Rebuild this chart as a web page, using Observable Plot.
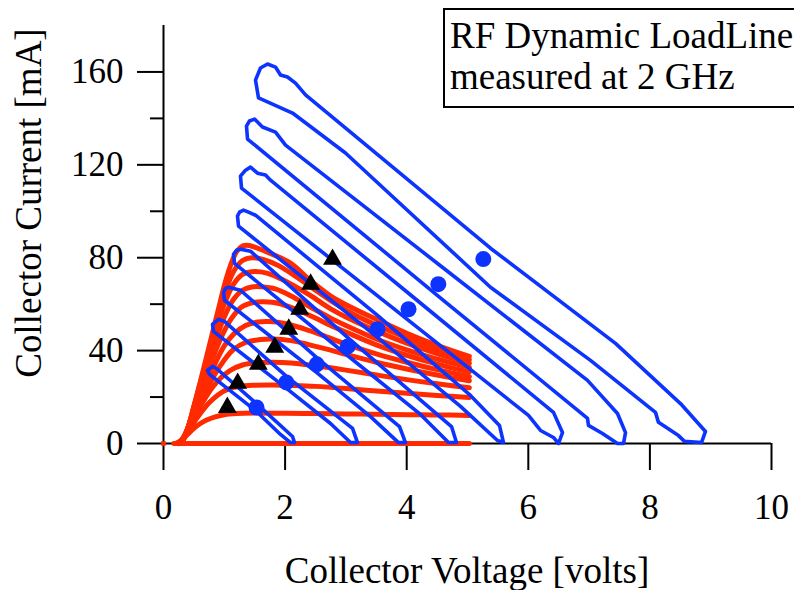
<!DOCTYPE html>
<html>
<head>
<meta charset="utf-8">
<script src="https://cdn.jsdelivr.net/npm/d3@7"></script>
<script src="https://cdn.jsdelivr.net/npm/@observablehq/plot@0.6"></script>
<style>
  html, body { margin: 0; padding: 0; background: white; }
</style>
</head>
<body>
<div id="chart"></div>
<script>
// ---- axis ticks ----
const xTicks = [0, 2, 4, 6, 8, 10];
const yTicks = [0, 40, 80, 120, 160];
const yMinorTicks = [20, 60, 100, 140];

// ---- text ----
const xTitle = "Collector Voltage [volts]";
const yTitle = "Collector Current [mA]";
const legendLines = ["RF Dynamic LoadLine", "measured at 2 GHz"];

// ---- DC I-V curves (red) [volts, mA] ----
const ivZero = [[0.17, 0], [5.03, 0]];
const iv1 = [[0.2,0],[0.3,1.5],[0.4,4],[0.5,6.5],[0.6,8.5],[0.7,10],[0.85,11.5],[1.0,12.4],[1.2,12.9],[1.5,13.1],[2,13],[2.5,12.9],[3,12.7],[3.5,12.6],[4,12.4],[4.5,12.3],[5.03,12.1]];
const iv2 = [[0.25,0],[0.35,3],[0.45,7],[0.55,11],[0.65,14.5],[0.75,17.5],[0.9,21],[1.05,23.3],[1.25,24.6],[1.5,25.1],[1.8,25.2],[2.1,25],[2.5,24.6],[3,23.7],[3.5,22.6],[4,21.6],[4.5,20.7],[5.03,19.8]];
const iv3 = [[0.25,0],[0.35,3.5],[0.45,8.5],[0.55,13.5],[0.65,18],[0.8,24],[0.95,28.5],[1.1,31.5],[1.3,33.8],[1.55,34.8],[1.8,35],[2.1,34.7],[2.4,33.8],[2.75,32.6],[3,31.6],[3.5,29.5],[4,27.5],[4.5,25.7],[5.03,24]];
const iv4 = [[0.28,0],[0.4,6],[0.5,11],[0.6,17],[0.7,22.5],[0.85,30],[1,36],[1.15,40.5],[1.35,43.5],[1.6,44.8],[1.8,45],[2.1,44.3],[2.4,42.5],[2.75,40.2],[3,38.4],[3.5,35],[4,32.1],[4.5,29.5],[5.03,27]];
const iv5 = [[0.28,0],[0.4,6.5],[0.5,12.5],[0.6,19],[0.7,25.5],[0.85,34.5],[1,42],[1.15,47],[1.35,50.8],[1.55,52.3],[1.75,52.5],[2,51.7],[2.3,49.5],[2.6,46.8],[3,42.8],[3.5,38.6],[4,35],[4.5,31.8],[5.03,28.8]];
const iv6 = [[0.3,0],[0.4,6.5],[0.5,14],[0.6,21.5],[0.7,29],[0.85,39.5],[1,48.5],[1.15,55],[1.3,59],[1.5,60.8],[1.65,61],[1.9,60.3],[2.2,57.5],[2.5,54],[2.75,50.8],[3,48],[3.5,42.5],[4,38],[4.5,34.2],[5.03,30.8]];
const iv7 = [[0.3,0],[0.4,6.5],[0.5,15],[0.6,23.5],[0.7,32],[0.85,44],[1,54.5],[1.15,62],[1.3,66],[1.45,67.4],[1.6,67.5],[1.85,66.5],[2.1,63.5],[2.4,59],[2.75,54],[3,50.8],[3.5,45],[4,40.3],[4.5,36.3],[5.03,32.8]];
const iv8 = [[0.3,0],[0.4,6.5],[0.5,15.5],[0.6,25],[0.7,34.5],[0.85,48],[1,60],[1.15,68.5],[1.3,72.8],[1.45,74],[1.7,73.4],[2,70],[2.4,64],[2.75,58],[3,54.5],[3.5,48.5],[4,43.2],[4.5,38.7],[5.03,34.5]];
const iv9 = [[0.3,0],[0.4,6.5],[0.5,16],[0.6,25.5],[0.7,35.5],[0.85,50.5],[1,64],[1.15,74],[1.3,78.8],[1.45,80],[1.65,79.2],[1.9,76.5],[2.2,71.5],[2.5,66],[2.75,61.5],[3.1,56],[3.5,51],[4,45.5],[4.5,40.5],[5.03,36]];
const iv10 = [[0.3,0],[0.4,6.5],[0.5,16],[0.6,26],[0.7,36.5],[0.8,47],[0.9,57.5],[1,68],[1.1,76.5],[1.2,82.5],[1.3,85],[1.4,85.3],[1.7,82.5],[2.1,77.5],[2.4,70.5],[2.75,63.5],[3.1,58.5],[3.5,53.5],[4,47.5],[4.5,42.3],[5.03,37.5]];
const originPoint = [[0, 0]];

// ---- RF dynamic load-line loops (blue) [volts, mA] ----
const loop1 = [[0.806,33.2],[0.872,32.3],[1.530,17.2],[2.122,3.0],[2.155,0.4],[2.089,0.4],[1.924,3.9],[1.530,13.8],[0.757,29.8],[0.724,31.5]];
const loop2 = [[0.905,53.5],[1.003,52.6],[2.023,28.9],[3.109,6.5],[3.191,0.4],[3.076,0.4],[2.747,8.6],[2.023,23.7],[0.822,48.3],[0.806,51.3]];
const loop3 = [[1.069,67.3],[1.266,66.0],[2.516,37.1],[3.882,7.3],[3.980,0.4],[3.865,0.4],[3.405,11.6],[2.516,30.6],[1.003,61.7],[0.987,65.1],[1.020,66.8]];
const loop4 = [[1.266,83.7],[1.431,82.8],[3.026,45.7],[4.737,7.3],[4.819,0.4],[4.688,0.4],[4.227,12.5],[3.026,37.9],[1.168,77.6],[1.151,81.5],[1.201,83.2]];
const loop5 = [[1.316,100.5],[1.398,99.6],[1.513,98.3],[3.520,55.2],[5.049,20.7],[5.526,7.8],[5.592,0.4],[5.493,1.3],[4.885,16.0],[3.520,45.7],[1.234,93.6],[1.217,97.9],[1.250,99.6]];
const loop6 = [[1.431,119.0],[1.546,116.4],[1.678,115.6],[1.760,113.4],[4.030,64.7],[6.414,13.4],[6.562,4.7],[6.497,0],[6.414,2.6],[6.201,5.6],[6.003,12.1],[4.030,53.0],[1.283,110.0],[1.266,115.1],[1.349,117.7]];
const loop7 = [[1.497,139.7],[1.628,136.3],[1.842,134.1],[2.007,128.5],[4.523,77.2],[6.974,27.2],[7.467,12.9],[7.599,4.7],[7.566,0],[7.467,0],[7.220,4.3],[6.990,7.8],[6.974,10.8],[4.523,63.4],[1.382,131.1],[1.365,136.7],[1.414,138.9]];
const loop8 = [[1.711,163.4],[1.842,162.1],[1.924,158.7],[2.039,157.8],[2.171,155.2],[2.336,150.1],[5.378,84.1],[7.434,43.1],[8.503,17.2],[8.914,5.2],[8.849,0.4],[8.569,0.9],[8.470,3.4],[8.141,9.1],[8.092,13.4],[7.023,35.8],[5.378,67.3],[2.993,125.1],[2.122,142.3],[1.563,148.8],[1.513,156.5],[1.595,161.7]];

// ---- bias points (blue dots) and knee points (black triangles) ----
const biasV = [1.53, 2.02, 2.52, 3.03, 3.52, 4.03, 4.52, 5.26];
const biasI = [15.5, 26.3, 34.1, 41.8, 49.2, 57.8, 68.6, 79.4];
const kneeV = [1.05, 1.22, 1.56, 1.83, 2.06, 2.24, 2.42, 2.78];
const kneeI = [15.5, 25.9, 34.1, 41.4, 49.2, 57.8, 68.6, 79.3];

// ---- build tables ----
const ivCurves = [ivZero, iv1, iv2, iv3, iv4, iv5, iv6, iv7, iv8, iv9, iv10];
const ivData = ivCurves.flatMap((c, k) => c.map(([v, i]) => ({curve: k, v, i})));
const loops = [loop1, loop2, loop3, loop4, loop5, loop6, loop7, loop8];
const loopData = loops.flatMap((c, k) => c.map(([v, i]) => ({loop: k, v, i})));
const biasData = biasV.map((v, k) => ({v, i: biasI[k]}));
const kneeData = kneeV.map((v, k) => ({v, i: kneeI[k]}));
const originData = originPoint.map(([v, i]) => ({v, i}));

const RED = "#ff2a00";
const BLUE = "#0d33ff";
const FONT = "'Liberation Serif', 'Times New Roman', serif";

const svg = Plot.plot({
  width: 794,
  height: 590,
  marginTop: 25,
  marginBottom: 147,
  marginLeft: 163,
  marginRight: 23,
  style: {fontFamily: FONT, fontSize: "35px", color: "black", background: "white"},
  x: {domain: [0, 10]},
  y: {domain: [0, 180]},
  marks: [
    Plot.axisX({ticks: xTicks, tickSize: 27, tickPadding: 24, fontSize: 35, strokeWidth: 2, label: null, tickFormat: d => String(d)}),
    Plot.axisY({ticks: yTicks, tickSize: 26, tickPadding: 14, fontSize: 35, strokeWidth: 2, label: null, tickFormat: d => String(d)}),
    Plot.axisY({ticks: yMinorTicks, tickSize: 13, strokeWidth: 2, label: null, tickFormat: () => ""}),
    Plot.ruleX([0], {strokeWidth: 2}),
    Plot.ruleY([0], {strokeWidth: 2}),
    Plot.line(ivData, {x: "v", y: "i", z: "curve", stroke: RED, strokeWidth: 5, curve: "catmull-rom"}),
    Plot.dot(originData, {x: "v", y: "i", symbol: "square", r: 2.6, fill: RED}),
    Plot.line(loopData, {x: "v", y: "i", z: "loop", stroke: BLUE, strokeWidth: 3.6, curve: "linear-closed", strokeLinejoin: "round"}),
    Plot.dot(biasData, {x: "v", y: "i", r: 8, fill: BLUE}),
    Plot.dot(kneeData, {x: "v", y: "i", symbol: "triangle", r: 7, fill: "black"})
  ]
});

const s = d3.select(svg);
// axis titles
s.append("text")
  .attr("x", 467).attr("y", 583)
  .attr("text-anchor", "middle")
  .style("font-family", FONT).style("font-size", "37px")
  .attr("fill", "black")
  .text(xTitle);
s.append("text")
  .attr("transform", "translate(41,203) rotate(-90)")
  .attr("text-anchor", "middle")
  .style("font-family", FONT).style("font-size", "37px")
  .attr("fill", "black")
  .text(yTitle);
// legend box
const lg = s.append("g");
lg.append("rect")
  .attr("x", 444).attr("y", 9).attr("width", 370).attr("height", 98)
  .attr("fill", "white").attr("stroke", "black").attr("stroke-width", 2);
legendLines.forEach((t, k) => {
  lg.append("text")
    .attr("x", 450).attr("y", 48 + k * 41)
    .attr("text-anchor", "start")
    .style("font-family", FONT).style("font-size", "37px")
    .attr("fill", "black")
    .text(t);
});

document.getElementById("chart").appendChild(svg);
</script>
</body>
</html>
